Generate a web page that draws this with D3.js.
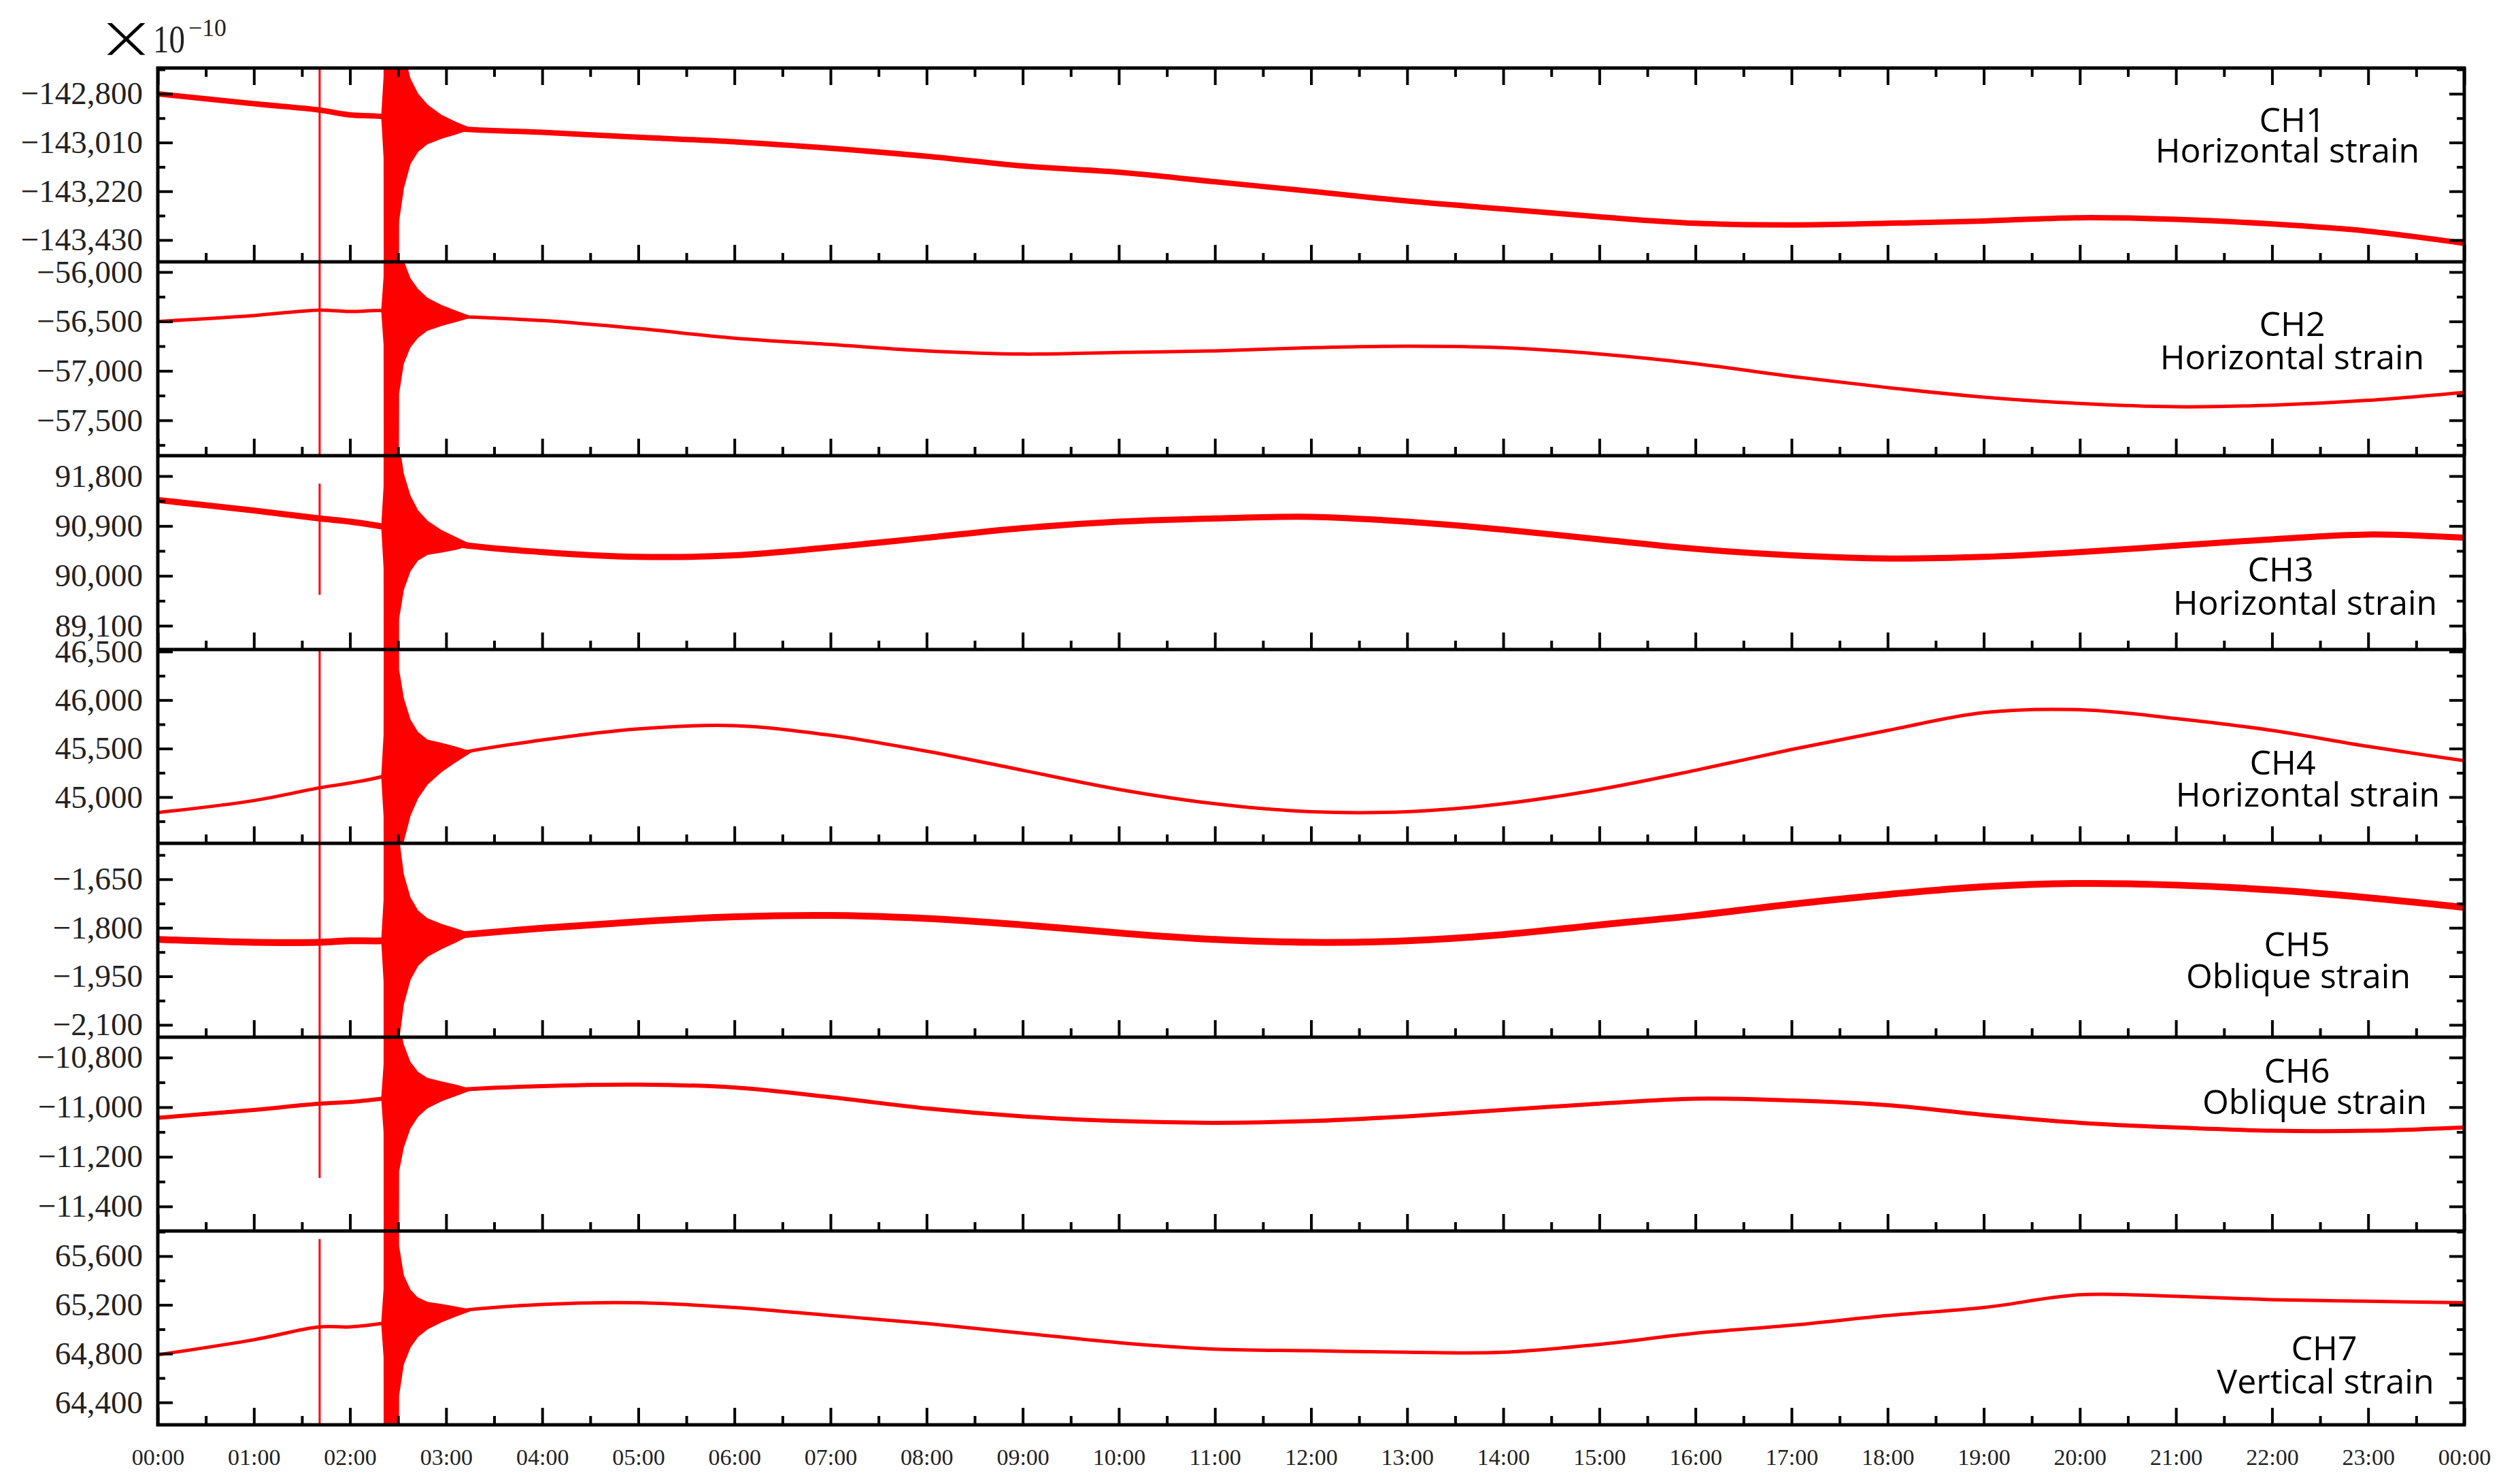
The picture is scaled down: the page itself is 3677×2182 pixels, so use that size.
<!DOCTYPE html>
<html><head><meta charset="utf-8">
<script src="https://cdn.jsdelivr.net/npm/d3@7"></script>
<style>html,body{margin:0;padding:0;background:#fff;}</style>
</head><body>
<svg id="chart" width="3677" height="2182"></svg>
<script>
// ---------------- DATA ----------------
const timeH = [0,1,1.68,2,2.33,3,4,5,6,7,8,9,10,11,12,13,14,15,16,17,18,19,20,21,22,23,24];
const ch1 = [-142800,-142843,-142870,-142891,-142898,-142946,-142966,-142987,-143007,-143035,-143069,-143111,-143138,-143179,-143220,-143262,-143296,-143330,-143358,-143365,-143358,-143348,-143334,-143341,-143361,-143392,-143444];
const ch2 = [-56500,-56440,-56385,-56400,-56390,-56443,-56491,-56572,-56669,-56733,-56798,-56830,-56814,-56798,-56766,-56750,-56766,-56830,-56927,-57056,-57169,-57266,-57330,-57363,-57347,-57298,-57218];
const ch3 = [91367,91179,91035,90977,90890,90601,90428,90342,90370,90515,90688,90861,90977,91035,91064,90977,90833,90659,90486,90370,90313,90342,90428,90544,90659,90746,90688];
const ch4 = [44840,44964,45095,45145,45210,45424,45588,45703,45736,45637,45473,45276,45079,44931,44849,44849,44931,45079,45276,45490,45687,45870,45900,45810,45687,45522,45375];
const ch5 = [-1836,-1845,-1845,-1840,-1840,-1826,-1801,-1781,-1766,-1762,-1771,-1791,-1816,-1836,-1845,-1840,-1821,-1791,-1762,-1727,-1697,-1673,-1663,-1668,-1683,-1707,-1737];
const ch6 = [-11043,-11011,-10986,-10979,-10966,-10934,-10915,-10909,-10921,-10960,-11005,-11037,-11056,-11063,-11056,-11037,-11011,-10986,-10966,-10973,-10992,-11031,-11063,-11082,-11095,-11095,-11082];
const ch7 = [64790,64914,65019,65019,65047,65139,65204,65217,65178,65113,65047,64968,64890,64837,64824,64811,64811,64876,64968,65033,65113,65178,65283,65270,65243,65230,65217];
const series = [ch1,ch2,ch3,ch4,ch5,ch6,ch7];

const channelNames = ["CH1","CH2","CH3","CH4","CH5","CH6","CH7"];
const channelTypes = ["Horizontal strain","Horizontal strain","Horizontal strain","Horizontal strain","Oblique strain","Oblique strain","Vertical strain"];

// y-axis extents (top value, bottom value) and tick labels
const yDomains = [[-142689,-143524],[-55897,-57858],[92168,88671],[46521,44523],[-1539,-2138],[-10718,-11499],[65806,64216]];
const yTicks = [
  [-142800,-143010,-143220,-143430],
  [-56000,-56500,-57000,-57500],
  [91800,90900,90000,89100],
  [46500,46000,45500,45000],
  [-1650,-1800,-1950,-2100],
  [-10800,-11000,-11200,-11400],
  [65600,65200,64800,64400]
];
const xTickLabels = ["00:00","01:00","02:00","03:00","04:00","05:00","06:00","07:00","08:00","09:00","10:00","11:00","12:00","13:00","14:00","15:00","16:00","17:00","18:00","19:00","20:00","21:00","22:00","23:00","00:00"];

// main earthquake: envelope half-amplitude (data units) around the trace
const quakeT = [2.30,2.335,2.36,2.375,2.48,2.50,2.55,2.62,2.70,2.80,2.95,3.10,3.25];
const quakeAmp = [
  [0,0,176,5000,5000,440,293,182,123,82,47,23,0],
  [0,0,344,10000,10000,826,516,344,241,158,96,48,0],
  [0,0,736,20000,20000,1595,1043,675,442,294,184,98,0],
  [0,0,421,10000,10000,1052,736,491,336,224,140,70,0],
  [0,0,126,5000,5000,315,200,126,84,57,36,19,0],
  [0,0,137,5000,5000,301,206,132,88,58,36,19,0],
  [0,0,279,10000,10000,614,363,234,156,106,67,33,0]
];
// foreshock spike at 01:41 : [min, max] per channel
const foreshockT = 1.684;
const foreshockRange = [[-144000,-142000],[-58500,-55500],[89657,91664],[44000,47000],[-2300,-1400],[-11285,-10500],[64000,65740]];

// ---------------- LAYOUT / STYLE ----------------
const W = 3677, H = 2182;
const plotLeft = 232, plotRight = 3623, plotTop = 100, panelH = 285;
const traceWidth = [8,5,9,5,10,6,5];
const labelPos = [ // [x1,dy1,x2,dy2] relative to panel top
  [3370,76,3363,121],[3370,91,3370,140],[3353,167,3389,216],[3356,166,3393,213],
  [3377,148,3379,195],[3377,49,3403,95],[3417,172,3419,221]
];
const RED = "#ff0000";

const svg = d3.select("#chart");
svg.append("rect").attr("width",W).attr("height",H).attr("fill","#fff");
const x = d3.scaleLinear().domain([0,24]).range([plotLeft,plotRight]);
const hourTicks = xTickLabels.map((d,i)=>i);
const halfTicks = hourTicks.slice(0,-1).map(h=>h+0.5);

const defs = svg.append("defs");

series.forEach((vals,i)=>{
  const y0 = plotTop + i*panelH;
  const y = d3.scaleLinear().domain(yDomains[i]).range([y0, y0+panelH]);
  defs.append("clipPath").attr("id","clip"+i).append("rect")
    .attr("x",plotLeft).attr("y",y0).attr("width",plotRight-plotLeft).attr("height",panelH);
  const g = svg.append("g").attr("clip-path","url(#clip"+i+")");
  const pts = timeH.map((t,k)=>[t,vals[k]]);
  const line = d3.line().x(d=>x(d[0])).y(d=>y(d[1])).curve(d3.curveCatmullRom.alpha(0.5));
  g.append("path").attr("d",line(pts)).attr("fill","none").attr("stroke",RED)
    .attr("stroke-width",traceWidth[i]).attr("stroke-linejoin","round");
  // quake envelope
  const base = d3.scaleLinear().domain(timeH).range(vals);
  const env = quakeT.map((t,k)=>({t, lo: base(t)-quakeAmp[i][k], hi: base(t)+quakeAmp[i][k]}));
  const area = d3.area().x(d=>x(d.t)).y0(d=>y(d.lo)).y1(d=>y(d.hi)).curve(d3.curveLinear);
  g.append("path").attr("d",area(env)).attr("fill",RED).attr("stroke",RED).attr("stroke-width",3);
  // foreshock spike
  g.append("line").attr("x1",x(foreshockT)).attr("x2",x(foreshockT))
    .attr("y1",y(foreshockRange[i][0])).attr("y2",y(foreshockRange[i][1]))
    .attr("stroke",RED).attr("stroke-width",3);

  // axes
  const ticks = yTicks[i];
  const step = Math.abs(ticks[1]-ticks[0]);
  const dmin = Math.min(...yDomains[i]), dmax = Math.max(...yDomains[i]);
  const minor = [];
  for (let v = ticks[0] - step*4.5; v <= ticks[0] + step*4.5; v += step) if (v>dmin && v<dmax) minor.push(v);
  const fmt = d3.format(",");
  const lab = svg.append("g").attr("transform",`translate(${plotLeft},0)`)
    .call(d3.axisLeft(y).tickValues(ticks).tickSize(0).tickPadding(22).tickFormat(fmt));
  lab.select(".domain").remove();
  lab.selectAll("text").attr("font-family","Liberation Serif").attr("font-size",47).attr("fill","#222");
  const mk = (axis, tx, vals2, size) => {
    const a = svg.append("g").attr("transform",tx).call(axis.tickValues(vals2).tickSize(size).tickFormat(""));
    a.select(".domain").remove();
    a.selectAll("line").attr("stroke","#000").attr("stroke-width",4);
  };
  mk(d3.axisRight(y), `translate(${plotLeft},0)`, ticks, 22);
  mk(d3.axisRight(y), `translate(${plotLeft},0)`, minor, 11);
  mk(d3.axisLeft(y), `translate(${plotRight},0)`, ticks, 22);
  mk(d3.axisLeft(y), `translate(${plotRight},0)`, minor, 11);
  mk(d3.axisTop(x), `translate(0,${y0+panelH})`, hourTicks, 25);
  mk(d3.axisTop(x), `translate(0,${y0+panelH})`, halfTicks, 13);

  // channel label (two lines in one text element)
  const lp = labelPos[i];
  const t = svg.append("text").attr("text-anchor","middle").attr("font-family","Open Sans")
    .attr("font-size",50).attr("fill","#000");
  t.append("tspan").attr("x",lp[0]).attr("y",y0+lp[1]).attr("dy","0.36em").text(channelNames[i]);
  t.append("tspan").attr("x",lp[2]).attr("y",y0+lp[3]).attr("dy","0.36em").text(channelTypes[i]);
});

// top ticks (pointing down)
const mkTop = (vals2,size)=>{
  const a = svg.append("g").attr("transform",`translate(0,${plotTop})`)
    .call(d3.axisBottom(x).tickValues(vals2).tickSize(size).tickFormat(""));
  a.select(".domain").remove();
  a.selectAll("line").attr("stroke","#000").attr("stroke-width",4);
};
mkTop(hourTicks,25); mkTop(halfTicks,13);

// bottom labels
const plotBottom = plotTop + 7*panelH;
const xa = svg.append("g").attr("transform",`translate(0,${plotBottom})`)
  .call(d3.axisBottom(x).tickValues(hourTicks).tickSize(0).tickPadding(35).tickFormat(d=>xTickLabels[d]));
xa.select(".domain").remove();
xa.selectAll("text").attr("font-family","Liberation Serif").attr("font-size",34).attr("fill","#222");

// frame & separators
svg.append("rect").attr("x",plotLeft).attr("y",plotTop).attr("width",plotRight-plotLeft).attr("height",7*panelH)
  .attr("fill","none").attr("stroke","#000").attr("stroke-width",5);
for (let i=1;i<7;i++){
  svg.append("line").attr("x1",plotLeft).attr("x2",plotRight).attr("y1",plotTop+i*panelH).attr("y2",plotTop+i*panelH)
    .attr("stroke","#000").attr("stroke-width",5);
}

// unit label  (×10^-10)
svg.append("text").attr("x",161).attr("y",71).attr("font-family","DejaVu Sans Mono").attr("font-size",40)
  .attr("textLength",49).attr("lengthAdjust","spacingAndGlyphs").attr("fill","#000").text("╳");
svg.append("text").attr("x",225).attr("y",77).attr("font-family","Liberation Serif").attr("font-size",56)
  .attr("textLength",47).attr("lengthAdjust","spacingAndGlyphs").attr("fill","#222").text("10");
svg.append("text").attr("x",277).attr("y",53).attr("font-family","Liberation Serif").attr("font-size",36)
  .attr("textLength",56).attr("lengthAdjust","spacingAndGlyphs").attr("fill","#222").text("−10");
</script>
</body></html>
